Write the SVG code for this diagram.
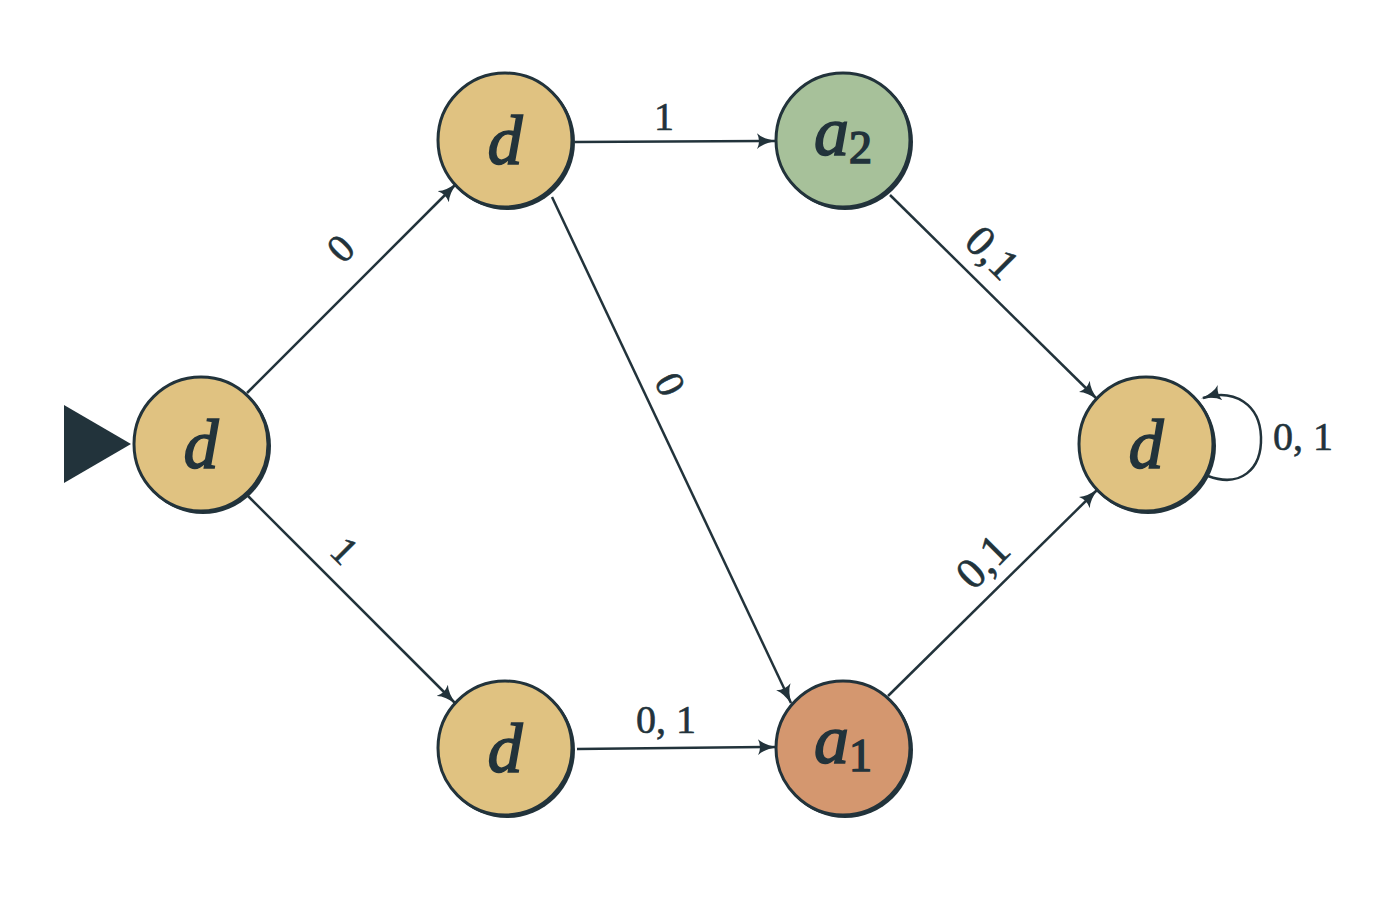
<svg xmlns="http://www.w3.org/2000/svg" width="1379" height="902" viewBox="0 0 1379 902">
<style>
.node{stroke:#22333B;stroke-width:3}
.shadow{fill:#22333B}
.y{fill:#E0C281}.g{fill:#A7C19A}.o{fill:#D4976F}
.nl{font-family:"Liberation Serif",serif;font-style:italic;font-size:70px;fill:#22333B;stroke:#22333B;stroke-width:1.6;text-anchor:middle}
.sub{font-family:"Liberation Serif",serif;font-size:46px;font-style:normal}
.el{font-family:"Liberation Serif",serif;font-size:40px;fill:#22333B;stroke:#22333B;stroke-width:0.6;text-anchor:middle}
.dl{font-size:44px}
.e{stroke:#22333B;stroke-width:2.5;fill:none;marker-end:url(#ah)}
</style>
<defs>
<marker id="ah" viewBox="0 0 20 16" refX="18" refY="8" markerWidth="20" markerHeight="16" markerUnits="userSpaceOnUse" orient="auto">
<path d="M0,0 Q6,6 20,8 Q6,10 0,16 Q4,8 0,0 Z" fill="#22333B"/>
</marker>
</defs>
<rect width="1379" height="902" fill="#fff"/>
<polygon points="64,405 64,483 131,444" fill="#22333B"/>
<g id="connectors">
<line class="e" x1="247" y1="393" x2="456" y2="184"/>
<line class="e" x1="248" y1="496" x2="455" y2="703"/>
<line class="e" x1="575" y1="142" x2="775" y2="141"/>
<line class="e" x1="552" y1="197" x2="791" y2="703"/>
<line class="e" x1="577" y1="749" x2="776" y2="747"/>
<line class="e" x1="890" y1="195" x2="1097" y2="399"/>
<line class="e" x1="888" y1="696" x2="1097" y2="490"/>
<path class="e" d="M1208,476 C1240,488 1262,470 1261,437 C1260,405 1235,388 1203,398"/>
<text class="el" transform="translate(350,258) rotate(-45)">0</text>
<text class="el" transform="translate(335,560) rotate(45)">1</text>
<text class="el" x="664" y="130">1</text>
<text class="el" transform="translate(658,390) rotate(64.7)">0</text>
<text class="el" x="666" y="733">0, 1</text>
<text class="el dl" transform="translate(982,263) rotate(45)">0,1</text>
<text class="el dl" transform="translate(993,572) rotate(-45)">0,1</text>
<text class="el" x="1303" y="450">0, 1</text>
</g>
<g id="n1"><circle class="shadow" cx="203" cy="446" r="68"/><circle class="node y" cx="201" cy="444" r="67"/><text class="nl" x="201" y="468">d</text></g>
<g id="n2"><circle class="shadow" cx="507" cy="142" r="68"/><circle class="node y" cx="505" cy="140" r="67"/><text class="nl" x="505" y="164">d</text></g>
<g id="n3"><circle class="shadow" cx="845" cy="142" r="68"/><circle class="node g" cx="843" cy="140" r="67"/><text class="nl" x="843" y="155">a<tspan class="sub" dy="8">2</tspan></text></g>
<g id="n4"><circle class="shadow" cx="1148" cy="446" r="68"/><circle class="node y" cx="1146" cy="444" r="67"/><text class="nl" x="1146" y="468">d</text></g>
<g id="n5"><circle class="shadow" cx="507" cy="750" r="68"/><circle class="node y" cx="505" cy="748" r="67"/><text class="nl" x="505" y="772">d</text></g>
<g id="n6"><circle class="shadow" cx="845" cy="750" r="68"/><circle class="node o" cx="843" cy="748" r="67"/><text class="nl" x="843" y="763">a<tspan class="sub" dy="8">1</tspan></text></g>
</svg>
